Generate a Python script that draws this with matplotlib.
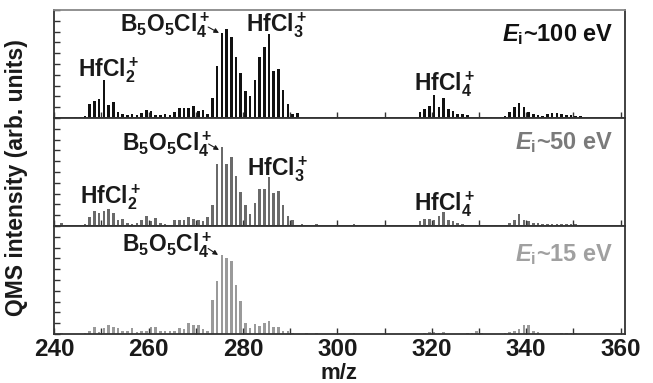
import numpy as np
import matplotlib
matplotlib.use("Agg")
import matplotlib.pyplot as plt
from matplotlib.ticker import MultipleLocator

plt.rcParams['font.family'] = ['Liberation Sans', 'DejaVu Sans']
plt.rcParams['font.weight'] = 'bold'
plt.rcParams['mathtext.fontset'] = 'custom'
plt.rcParams['mathtext.rm'] = 'Liberation Sans:bold'
plt.rcParams['mathtext.bf'] = 'Liberation Sans:bold'
plt.rcParams['mathtext.it'] = 'Liberation Sans:italic:bold'

# m/z grid (bar positions as read on the axis)
mz = np.arange(241.5, 352.5, 1.0)

# Ei ~ 100 eV  (m/z 241 ... 351)
int_100 = [0, 0, 0, 0.7, 1.3, 2.3, 14, 16.7, 19, 38,
           13, 15.7, 5.7, 4, 3, 4, 3, 4.7, 8, 7.3,
           3.3, 3, 4, 3, 5.7, 10, 10, 10, 12, 6.7,
           8, 4, 20, 52, 85, 89, 81, 61, 45, 27,
           22, 38, 61, 71, 84, 47, 49, 28, 14, 4,
           5, 0, 0, 0, 0, 0, 0, 0, 0, 0,
           0, 0, 0, 0, 0, 0, 0.8, 0, 0, 0,
           0, 0, 0, 0, 0, 1.5, 6, 9, 12, 23,
           11, 20, 9, 7, 4, 4, 3, 0, 0, 1,
           1, 1, 0, 0, 2.3, 5.7, 11, 15, 11, 6,
           4, 3, 2.3, 4, 4.7, 4.7, 4, 3.3, 3, 2.3,
           1.7]

# Ei ~ 50 eV
int_50 = [2.7, 0, 0, 0, 0, 1.7, 9, 15.3, 12.7, 15,
          17, 13, 5.7, 7.3, 3, 2.3, 3, 5.7, 9.7, 5,
          7.7, 3, 1.7, 0, 5.7, 6.3, 6.3, 9.3, 7.3, 6.3,
          5, 9, 20.7, 61.7, 79.3, 61.7, 69.3, 49.7, 34, 21,
          11.7, 23.3, 36.7, 36.7, 49, 32.7, 34.7, 21, 9.7, 5.7,
          0, 1.7, 0, 0, 1.7, 0, 0, 0, 0, 0,
          0, 0, 1.7, 0, 0, 0, 0, 0, 0, 0,
          0, 0, 0, 0, 0, 0, 4.5, 6.5, 7, 5.7,
          10, 14, 6, 5, 3, 2.3, 0, 0, 1.3, 1.3,
          1.3, 0, 1.3, 0, 0, 3.3, 6.3, 11.7, 6.3, 5,
          3.3, 3.3, 2.3, 2, 2, 2, 2.3, 2, 1.7, 1.7,
          1.3]

# Ei ~ 15 eV
int_15 = [0.7, 0, 0, 0.5, 0.5, 1, 3.3, 6.7, 2, 6,
          8.7, 6.7, 6, 3.3, 2.7, 6, 2, 3.3, 3.3, 7.3,
          7.3, 2.7, 3.3, 3.3, 3.3, 6, 5.3, 11.3, 8.7, 8.7,
          5.3, 2.7, 34.3, 52.7, 79.3, 76, 73.3, 48.7, 33, 11,
          6, 10, 8.3, 11.3, 13.3, 7.3, 7.3, 3.3, 3.3, 0.7,
          0, 0, 1, 0, 1, 0, 0, 0, 0, 0,
          0, 0, 0.7, 0, 0, 0, 0, 0, 0, 0,
          0, 0, 0, 0, 0, 0, 0, 0.7, 1.7, 2.3,
          1, 2.3, 0, 0, 0, 0, 1, 1, 2.7, 1,
          0, 0, 0, 0, 0.7, 2, 2.7, 5.3, 9.3, 8.7,
          3.3, 2, 0, 0, 0, 0, 1, 1.3, 1.3, 0.7,
          0]

energy_labels = [r'$\mathit{E}_\mathrm{i}$~100 eV', r'$\mathit{E}_\mathrm{i}$~50 eV',
                 r'$\mathit{E}_\mathrm{i}$~15 eV']
xticks = [240, 260, 280, 300, 320, 340, 360]

bar_colors = ['#111111', '#6a6a6a', '#9a9a9a']
energy_colors = ['#111111', '#7a7a7a', '#a0a0a0']
txt = '#1a1a1a'

W, H = 653, 383
fig = plt.figure(figsize=(W / 100, H / 100), dpi=100)
left = 54.3 / W
width = (625.3 - 54.3) / W
tops = [10, 118, 226, 334]
axes = []
for i in range(3):
    b = 1 - tops[i + 1] / H
    h = (tops[i + 1] - tops[i]) / H
    ax = fig.add_axes([left, b, width, h])
    axes.append(ax)

data = [int_100, int_50, int_15]
for i, ax in enumerate(axes):
    ax.bar(mz, data[i], width=0.55, color=bar_colors[i], linewidth=0)
    ax.set_xlim(240, 361)
    ax.set_ylim(0, 108)
    ax.xaxis.set_major_locator(MultipleLocator(20))
    ax.xaxis.set_minor_locator(MultipleLocator(10))
    ax.yaxis.set_major_locator(MultipleLocator(10.8))
    ax.tick_params(axis='both', which='both', direction='in', length=4,
                   width=1, color='#333333', right=False, top=False)
    ax.tick_params(axis='y', labelleft=False)
    for s in ax.spines.values():
        s.set_color('#333333')
        s.set_linewidth(1.3)
    if i < 2:
        ax.tick_params(axis='x', labelbottom=False)
    ax.text(358.4, [77.3, 76.7, 73][i], energy_labels[i], ha='right', va='baseline',
            fontsize=17, color=energy_colors[i], fontweight='bold')

axes[0].spines['top'].set_color('#888888')

axes[2].set_xticks(xticks)
axes[2].set_xticklabels([str(t) for t in xticks], fontsize=17.5, fontweight='bold', color=txt)
axes[2].tick_params(axis='x', pad=3)

fig.text(339 / W, 1 - 373.5 / H, 'm/z', ha='center', va='center',
         fontsize=16, fontweight='bold', color=txt)

fig.text(17 / W, 1 - 178 / H, 'QMS intensity (arb. units)', rotation=90,
         ha='center', va='center', fontsize=16.5, fontweight='bold', color=txt)

fs = 16.5
B = r'B$_5$O$_5$Cl$_4^+$'
# top panel
a = axes[0]
a.text(245.0, 42, r'HfCl$_2^+$', fontsize=fs, color=txt, ha='left', va='baseline')
a.text(253.9, 86.3, B, fontsize=fs, color=txt, ha='left', va='baseline')
a.text(280.7, 86.3, r'HfCl$_3^+$', fontsize=fs, color=txt, ha='left', va='baseline')
a.text(316.2, 27.3, r'HfCl$_4^+$', fontsize=fs, color=txt, ha='left', va='baseline')
a.annotate('', xy=(274.9, 85), xytext=(272.6, 91),
           arrowprops=dict(arrowstyle='-|>', color=txt, lw=0.8, mutation_scale=7,
                           shrinkA=0, shrinkB=0))
# middle panel
a = axes[1]
a.text(254.4, 76, B, fontsize=fs, color=txt, ha='left', va='baseline')
a.text(245.5, 22.7, r'HfCl$_2^+$', fontsize=fs, color=txt, ha='left', va='baseline')
a.text(280.8, 51, r'HfCl$_3^+$', fontsize=fs, color=txt, ha='left', va='baseline')
a.text(316.2, 15.3, r'HfCl$_4^+$', fontsize=fs, color=txt, ha='left', va='baseline')
a.annotate('', xy=(274.9, 76), xytext=(272.7, 82),
           arrowprops=dict(arrowstyle='-|>', color=txt, lw=0.8, mutation_scale=7,
                           shrinkA=0, shrinkB=0))
# bottom panel
a = axes[2]
a.text(254.4, 82.3, B, fontsize=fs, color=txt, ha='left', va='baseline')
a.annotate('', xy=(274.7, 79), xytext=(272.6, 85.5),
           arrowprops=dict(arrowstyle='-|>', color=txt, lw=0.8, mutation_scale=7,
                           shrinkA=0, shrinkB=0))

fig.savefig('out.png', dpi=100)
